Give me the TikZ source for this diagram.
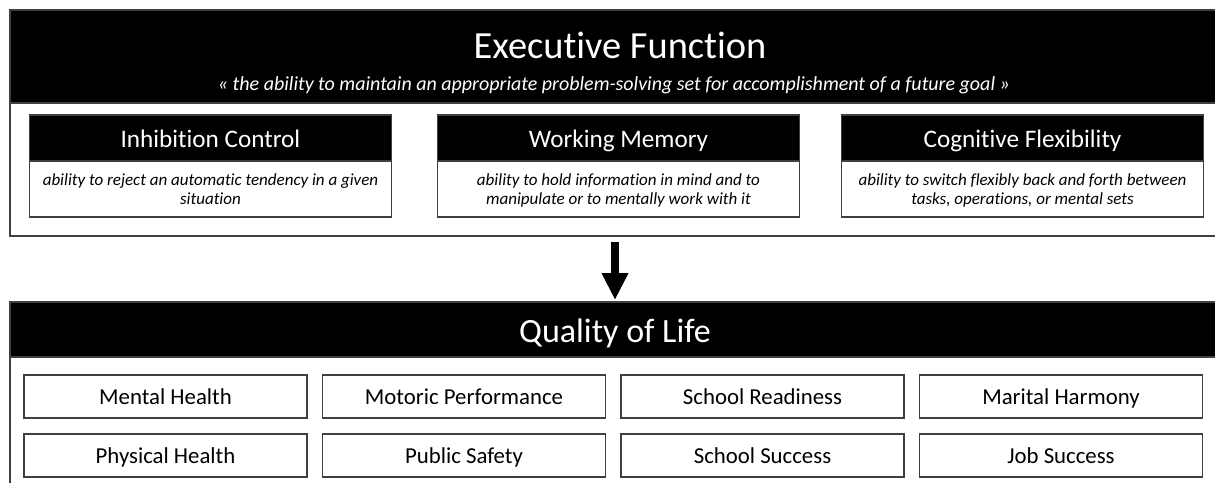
\documentclass[tikz,border=0pt]{standalone}
\usepackage{fontspec}
\setmainfont{Carlito}[Ligatures=NoCommon]
\usetikzlibrary{arrows.meta}
\begin{document}
\begin{tikzpicture}[x=1pt,y=-1pt,
  frame/.style={draw=black!75, line width=1.3pt, fill=white, inner sep=0pt, outer sep=0pt},
  headbar/.style={fill=black, draw=black!75, line width=1.3pt, inner sep=0pt, outer sep=0pt},
  bigtitle/.style={anchor=base, text=white, inner sep=0pt, font=\fontsize{38.4}{40}\selectfont},
  quote/.style={anchor=base, text=white, inner sep=0pt, font=\fontsize{20}{22}\selectfont\itshape},
  subhead/.style={headbar, minimum width=362pt, minimum height=46pt},
  subbody/.style={frame, minimum width=362pt, minimum height=56pt},
  subtitle/.style={anchor=base, text=white, inner sep=0pt, font=\fontsize{25.2}{27}\selectfont},
  desc/.style={align=center, inner sep=0pt, font=\fontsize{17}{19}\selectfont\itshape},
  item/.style={frame, minimum width=283pt, minimum height=43pt, text height=15pt, text depth=-4pt, font=\fontsize{22.8}{24}\selectfont},
  bigarrow/.style={line width=8pt, -{Triangle[width=25pt,length=27pt]}, shorten <=6pt, shorten >=2pt}
]
\useasboundingbox (0,0) rectangle (1215,482);

% Executive function block
\node[frame, minimum width=1210pt, minimum height=226pt] (efbody) at (615,123) {};
\node[headbar, minimum width=1210pt, minimum height=93pt] (efhead) at (615,56.5) {};
\node[bigtitle] (eftitle) at (620,58) {Executive Function};
\node[quote] (efquote) at (614,90.5) {« the ability to maintain an appropriate problem-solving set for accomplishment of a future goal »};

% Sub-components
\node[subbody] (icbody) at (210.5,189) {};
\node[subhead] (ichead) at (210.5,138) {};
\node[subtitle] (ictitle) at (210.5,147) {Inhibition Control};
\node[desc] (icdesc) at (210.5,190.7) {\strut ability to reject an automatic tendency in a given\\\strut situation};

\node[subbody] (wmbody) at (618.5,189) {};
\node[subhead] (wmhead) at (618.5,138) {};
\node[subtitle] (wmtitle) at (618.5,147) {Working Memory};
\node[desc] (wmdesc) at (618.5,190.7) {\strut ability to hold information in mind and to\\\strut manipulate or to mentally work with it};

\node[subbody] (cfbody) at (1022.5,189) {};
\node[subhead] (cfhead) at (1022.5,138) {};
\node[subtitle] (cftitle) at (1022.5,147) {Cognitive Flexibility};
\node[desc] (cfdesc) at (1022.5,190.7) {\strut ability to switch flexibly back and forth between\\\strut tasks, operations, or mental sets};

% Quality of life block
\node[frame, minimum width=1210pt, minimum height=220pt] (qolbody) at (615,412) {};
\node[headbar, minimum width=1210pt, minimum height=55pt] (qolhead) at (615,329.5) {};
\node[bigtitle, font=\fontsize{34}{36}\selectfont] (qoltitle) at (615,342) {Quality of Life};

\draw[bigarrow] (efbody.south) -- (qolhead.north);

% Items
\node[item] (i1) at (165.5,396.5) {Mental Health};
\node[item] (i2) at (464,396.5) {Motoric Performance};
\node[item] (i3) at (762.5,396.5) {School Readiness};
\node[item] (i4) at (1061,396.5) {Marital Harmony};
\node[item] (i5) at (165.5,455.5) {Physical Health};
\node[item] (i6) at (464,455.5) {Public Safety};
\node[item] (i7) at (762.5,455.5) {School Success};
\node[item] (i8) at (1061,455.5) {Job Success};
\end{tikzpicture}
\end{document}
